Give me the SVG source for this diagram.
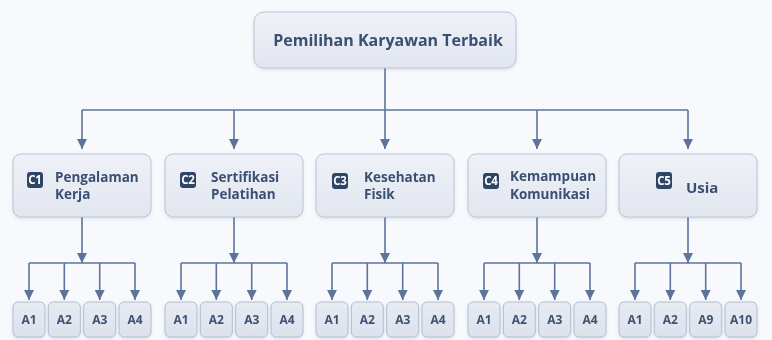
<svg xmlns="http://www.w3.org/2000/svg" width="772" height="340" viewBox="0 0 772 340">
<style>
.bg{fill:#f8f9fc}
.box{fill:url(#g);stroke:#bcc4d4;stroke-width:1}
.abox{fill:url(#g2);stroke:#b4bdcf;stroke-width:1}
.t{font-family:"Open Sans","Noto Sans",sans-serif;font-weight:700;fill:#3a4f72}
.title{font-size:16px;text-anchor:middle}
.ct{font-size:13.5px}
.badge{fill:#2e4468}
.bt{font-family:"Open Sans","DejaVu Sans",sans-serif;font-weight:700;font-size:11.5px;fill:#ffffff;text-anchor:middle;letter-spacing:-0.3px}
.at{font-size:12px;text-anchor:middle;fill:#3e5275}
.ln{fill:none;stroke:#5c739c;stroke-width:1.6}
.arr{fill:none;stroke:#5c739c;stroke-width:1.6;marker-end:url(#ah)}
</style>
<defs>
<linearGradient id="g" x1="0" y1="0" x2="0" y2="1"><stop offset="0" stop-color="#eef1f7"/><stop offset="1" stop-color="#e2e6ef"/></linearGradient>
<linearGradient id="g2" x1="0" y1="0" x2="0" y2="1"><stop offset="0" stop-color="#e7ebf3"/><stop offset="1" stop-color="#dce1eb"/></linearGradient>
<filter id="sh" x="-10%" y="-10%" width="120%" height="130%"><feDropShadow dx="0" dy="1.5" stdDeviation="1.5" flood-color="#5a6f98" flood-opacity="0.18"/></filter>
<marker id="ah" markerUnits="userSpaceOnUse" markerWidth="11" markerHeight="10" viewBox="0 0 11 10" refX="10" refY="5" orient="auto"><path d="M0,0 L10,5 L0,10 z" fill="#5c739c"/></marker>
</defs>
<rect class="bg" x="0" y="0" width="772" height="340"/>

<g id="connectors">
<path class="ln" d="M385 68 V110 M82 110 H688"/>
<path class="arr" d="M82 110 V149"/>
<path class="arr" d="M234 110 V149"/>
<path class="arr" d="M385 110 V149"/>
<path class="arr" d="M537 110 V149"/>
<path class="arr" d="M688 110 V149"/>

<path class="arr" d="M82 217 V263"/>
<path class="arr" d="M234 217 V263"/>
<path class="arr" d="M385 217 V263"/>
<path class="arr" d="M537 217 V263"/>
<path class="arr" d="M688 217 V263"/>

<path class="ln" d="M29 263 H135 M181 263 H287 M332 263 H438 M484 263 H590 M635 263 H741"/>

<path class="arr" d="M29 263 V300"/><path class="arr" d="M64.3 263 V300"/><path class="arr" d="M99.7 263 V300"/><path class="arr" d="M135 263 V300"/>
<path class="arr" d="M181 263 V300"/><path class="arr" d="M216.3 263 V300"/><path class="arr" d="M251.7 263 V300"/><path class="arr" d="M287 263 V300"/>
<path class="arr" d="M332 263 V300"/><path class="arr" d="M367.3 263 V300"/><path class="arr" d="M402.7 263 V300"/><path class="arr" d="M438 263 V300"/>
<path class="arr" d="M484 263 V300"/><path class="arr" d="M519.3 263 V300"/><path class="arr" d="M554.7 263 V300"/><path class="arr" d="M590 263 V300"/>
<path class="arr" d="M635 263 V300"/><path class="arr" d="M670.3 263 V300"/><path class="arr" d="M705.7 263 V300"/><path class="arr" d="M741 263 V300"/>
</g>

<g id="goal" filter="url(#sh)">
<rect class="box" x="254" y="12" width="262" height="56" rx="10"/>
<text class="t title" x="388" y="46">Pemilihan Karyawan Terbaik</text>
</g>

<g id="C1" filter="url(#sh)">
<rect class="box" x="13" y="154" width="138" height="63" rx="8"/>
<rect class="badge" x="27" y="172" width="16" height="16" rx="3"/>
<text class="bt" x="35" y="184.2">C1</text>
<text class="t ct" x="55" y="182">Pengalaman</text>
<text class="t ct" x="55" y="199">Kerja</text>
</g>
<g id="C2" filter="url(#sh)">
<rect class="box" x="165" y="154" width="138" height="63" rx="8"/>
<rect class="badge" x="180" y="172" width="16" height="16" rx="3"/>
<text class="bt" x="188" y="184.2">C2</text>
<text class="t ct" x="211" y="182">Sertifikasi</text>
<text class="t ct" x="211" y="199">Pelatihan</text>
</g>
<g id="C3" filter="url(#sh)">
<rect class="box" x="316" y="154" width="138" height="63" rx="8"/>
<rect class="badge" x="332" y="173" width="16" height="16" rx="3"/>
<text class="bt" x="340" y="185.2">C3</text>
<text class="t ct" x="364" y="182">Kesehatan</text>
<text class="t ct" x="364" y="199">Fisik</text>
</g>
<g id="C4" filter="url(#sh)">
<rect class="box" x="468" y="154" width="138" height="63" rx="8"/>
<rect class="badge" x="483" y="173" width="16" height="16" rx="3"/>
<text class="bt" x="491" y="185.2">C4</text>
<text class="t ct" x="510" y="181">Kemampuan</text>
<text class="t ct" x="510" y="199">Komunikasi</text>
</g>
<g id="C5" filter="url(#sh)">
<rect class="box" x="619" y="154" width="138" height="63" rx="8"/>
<rect class="badge" x="656" y="172" width="16" height="17" rx="3"/>
<text class="bt" x="664" y="184.7">C5</text>
<text class="t ct" x="686" y="193" style="font-size:15px">Usia</text>
</g>

<g id="C1-alts" filter="url(#sh)">
<g id="C1-A1"><rect class="abox" x="13" y="302" width="32" height="35" rx="5"/><text class="t at" x="29" y="324">A1</text></g>
<g id="C1-A2"><rect class="abox" x="48.3" y="302" width="32" height="35" rx="5"/><text class="t at" x="64.3" y="324">A2</text></g>
<g id="C1-A3"><rect class="abox" x="83.7" y="302" width="32" height="35" rx="5"/><text class="t at" x="99.7" y="324">A3</text></g>
<g id="C1-A4"><rect class="abox" x="119" y="302" width="32" height="35" rx="5"/><text class="t at" x="135" y="324">A4</text></g>
</g>
<g id="C2-alts" filter="url(#sh)">
<g id="C2-A1"><rect class="abox" x="165" y="302" width="32" height="35" rx="5"/><text class="t at" x="181" y="324">A1</text></g>
<g id="C2-A2"><rect class="abox" x="200.3" y="302" width="32" height="35" rx="5"/><text class="t at" x="216.3" y="324">A2</text></g>
<g id="C2-A3"><rect class="abox" x="235.7" y="302" width="32" height="35" rx="5"/><text class="t at" x="251.7" y="324">A3</text></g>
<g id="C2-A4"><rect class="abox" x="271" y="302" width="32" height="35" rx="5"/><text class="t at" x="287" y="324">A4</text></g>
</g>
<g id="C3-alts" filter="url(#sh)">
<g id="C3-A1"><rect class="abox" x="316" y="302" width="32" height="35" rx="5"/><text class="t at" x="332" y="324">A1</text></g>
<g id="C3-A2"><rect class="abox" x="351.3" y="302" width="32" height="35" rx="5"/><text class="t at" x="367.3" y="324">A2</text></g>
<g id="C3-A3"><rect class="abox" x="386.7" y="302" width="32" height="35" rx="5"/><text class="t at" x="402.7" y="324">A3</text></g>
<g id="C3-A4"><rect class="abox" x="422" y="302" width="32" height="35" rx="5"/><text class="t at" x="438" y="324">A4</text></g>
</g>
<g id="C4-alts" filter="url(#sh)">
<g id="C4-A1"><rect class="abox" x="468" y="302" width="32" height="35" rx="5"/><text class="t at" x="484" y="324">A1</text></g>
<g id="C4-A2"><rect class="abox" x="503.3" y="302" width="32" height="35" rx="5"/><text class="t at" x="519.3" y="324">A2</text></g>
<g id="C4-A3"><rect class="abox" x="538.7" y="302" width="32" height="35" rx="5"/><text class="t at" x="554.7" y="324">A3</text></g>
<g id="C4-A4"><rect class="abox" x="574" y="302" width="32" height="35" rx="5"/><text class="t at" x="590" y="324">A4</text></g>
</g>
<g id="C5-alts" filter="url(#sh)">
<g id="C5-A1"><rect class="abox" x="619" y="302" width="32" height="35" rx="5"/><text class="t at" x="635" y="324">A1</text></g>
<g id="C5-A2"><rect class="abox" x="654.3" y="302" width="32" height="35" rx="5"/><text class="t at" x="670.3" y="324">A2</text></g>
<g id="C5-A9"><rect class="abox" x="689.7" y="302" width="32" height="35" rx="5"/><text class="t at" x="705.7" y="324">A9</text></g>
<g id="C5-A10"><rect class="abox" x="725" y="302" width="32" height="35" rx="5"/><text class="t at" x="741" y="324">A10</text></g>
</g>
</svg>
